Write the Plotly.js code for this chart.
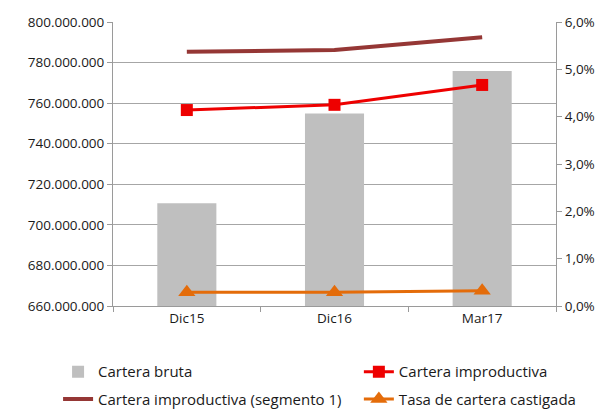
<!DOCTYPE html>
<html>
<head>
<meta charset="utf-8">
<script src="https://cdn.plot.ly/plotly-3.0.1.min.js"></script>
<style>html,body{margin:0;padding:0;background:#fff;}#chart{width:608px;height:411px;}</style>
</head>
<body>
<div id="chart"></div>
<script>
var categories = ["Dic15", "Dic16", "Mar17"];
var carteraBruta = [710700000, 754900000, 775800000];
var carteraImproductiva = [0.0414, 0.0425, 0.0467];
var carteraImproductivaSeg1 = [0.0537, 0.0541, 0.0568];
var tasaCastigada = [0.0029, 0.0029, 0.0032];
var leftTicks = [660000000, 680000000, 700000000, 720000000, 740000000, 760000000, 780000000, 800000000];

var font = "Open Sans, DejaVu Sans, sans-serif";
var traces = [
  {type: "bar", name: "Cartera bruta", x: categories, y: carteraBruta,
   marker: {color: "#bfbfbf"}, width: 0.4, legend: "legend"},
  {type: "scatter", mode: "lines+markers", name: "Cartera improductiva", x: categories, y: carteraImproductiva,
   yaxis: "y2", line: {color: "#ee0000", width: 3}, marker: {symbol: "square", size: 12, color: "#ee0000"}, legend: "legend2"},
  {type: "scatter", mode: "lines", name: "Cartera improductiva (segmento 1)", x: categories, y: carteraImproductivaSeg1,
   yaxis: "y2", line: {color: "#953735", width: 4}, legend: "legend3"},
  {type: "scatter", mode: "lines+markers", name: "Tasa de cartera castigada", x: categories, y: tasaCastigada,
   yaxis: "y2", line: {color: "#e46c0a", width: 3}, marker: {symbol: "triangle-up", size: 15, color: "#e46c0a"}, legend: "legend4"}
];
function leg(x, y) {
  return {orientation: "h", x: x, xanchor: "left", y: y, yanchor: "middle",
    font: {family: font, size: 15, color: "#1a1a1a"}, itemwidth: 30, bgcolor: "rgba(0,0,0,0)"};
}
var layout = {
  width: 608, height: 411,
  margin: {l: 113, r: 52, t: 22, b: 105, autoexpand: false},
  separators: ",.",
  paper_bgcolor: "#fff", plot_bgcolor: "#fff",
  font: {family: font, size: 13.5, color: "#1a1a1a"},
  showlegend: true,
  xaxis: {type: "category", showline: true, linecolor: "#9a9a9a", linewidth: 1,
    ticks: "outside", tickson: "boundaries", ticklen: 5, tickcolor: "#9a9a9a",
    showgrid: false},
  yaxis: {range: [660000000, 800000000], tickvals: leftTicks, tickformat: ",d",
    showgrid: true, gridcolor: "#a6a6a6", gridwidth: 1, zeroline: false,
    showline: true, linecolor: "#9a9a9a", ticks: "outside", ticklen: 5, tickcolor: "#9a9a9a"},
  yaxis2: {overlaying: "y", side: "right", range: [0, 0.06], dtick: 0.01, tickformat: ".1%",
    showgrid: false, zeroline: false, showline: true, linecolor: "#9a9a9a",
    ticks: "outside", ticklen: 5, tickcolor: "#9a9a9a"},
  legend: leg(-0.124, -0.232),
  legend2: leg(0.555, -0.232),
  legend3: leg(-0.124, -0.328),
  legend4: leg(0.555, -0.328)
};
Plotly.newPlot("chart", traces, layout, {displayModeBar: false, staticPlot: true});
</script>
</body>
</html>
